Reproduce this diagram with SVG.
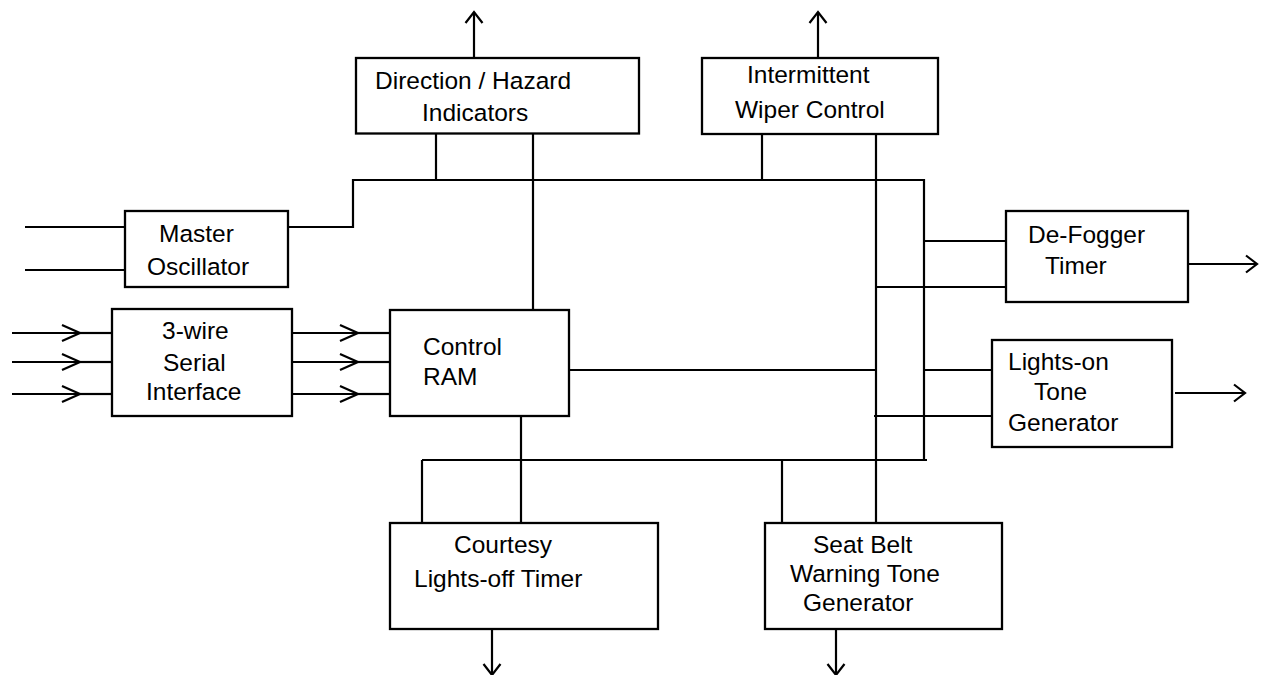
<svg xmlns="http://www.w3.org/2000/svg" width="1263" height="675" viewBox="0 0 1263 675">
<style>
.box{fill:#fff;stroke:#000;stroke-width:2.3}
.ln{fill:none;stroke:#000;stroke-width:2.2}
text{font-family:"Liberation Sans",Arial,sans-serif;font-size:24.5px;fill:#000}
</style>
<defs>
<marker id="ah" markerUnits="userSpaceOnUse" markerWidth="30" markerHeight="30" viewBox="-15 -15 30 30" refX="0" refY="0" orient="auto" overflow="visible"><path d="M-11,-8.5 L0,0 L-11,8.5" fill="none" stroke="#000" stroke-width="2.2"/></marker>
<marker id="ahl" markerUnits="userSpaceOnUse" markerWidth="40" markerHeight="30" viewBox="-20 -15 40 30" refX="0" refY="0" orient="auto" overflow="visible"><path d="M-18,-8 L0,0 L-18,8" fill="none" stroke="#000" stroke-width="2.2"/></marker>
</defs>
<rect width="1263" height="675" fill="#fff"/>
<g id="connectors">
<line class="ln" x1="474" y1="58" x2="474" y2="12" marker-end="url(#ah)"/>
<line class="ln" x1="818" y1="58" x2="818" y2="12" marker-end="url(#ah)"/>
<line class="ln" x1="436" y1="133" x2="436" y2="180"/>
<line class="ln" x1="533" y1="133" x2="533" y2="310"/>
<line class="ln" x1="762" y1="134" x2="762" y2="180"/>
<line class="ln" x1="876" y1="134" x2="876" y2="523"/>
<polyline class="ln" points="288,227 353,227 353,180 924,180 924,460"/>
<line class="ln" x1="25" y1="227" x2="125" y2="227"/>
<line class="ln" x1="25" y1="270" x2="125" y2="270"/>
<line class="ln" x1="12" y1="333" x2="80" y2="333" marker-end="url(#ahl)"/>
<line class="ln" x1="80" y1="333" x2="112" y2="333"/>
<line class="ln" x1="12" y1="362" x2="80" y2="362" marker-end="url(#ahl)"/>
<line class="ln" x1="80" y1="362" x2="112" y2="362"/>
<line class="ln" x1="12" y1="394" x2="80" y2="394" marker-end="url(#ahl)"/>
<line class="ln" x1="80" y1="394" x2="112" y2="394"/>
<line class="ln" x1="292" y1="333" x2="358" y2="333" marker-end="url(#ahl)"/>
<line class="ln" x1="358" y1="333" x2="390" y2="333"/>
<line class="ln" x1="292" y1="362" x2="358" y2="362" marker-end="url(#ahl)"/>
<line class="ln" x1="358" y1="362" x2="390" y2="362"/>
<line class="ln" x1="292" y1="394" x2="358" y2="394" marker-end="url(#ahl)"/>
<line class="ln" x1="358" y1="394" x2="390" y2="394"/>
<line class="ln" x1="569" y1="370" x2="876" y2="370"/>
<line class="ln" x1="521" y1="416" x2="521" y2="523"/>
<line class="ln" x1="422" y1="460" x2="927" y2="460"/>
<line class="ln" x1="422" y1="460" x2="422" y2="523"/>
<line class="ln" x1="782" y1="460" x2="782" y2="523"/>
<line class="ln" x1="924" y1="241" x2="1006" y2="241"/>
<line class="ln" x1="876" y1="287" x2="1006" y2="287"/>
<line class="ln" x1="1188" y1="264" x2="1257" y2="264" marker-end="url(#ah)"/>
<line class="ln" x1="924" y1="370" x2="995" y2="370"/>
<line class="ln" x1="874" y1="416" x2="995" y2="416"/>
<line class="ln" x1="1175" y1="393" x2="1245" y2="393" marker-end="url(#ah)"/>
<line class="ln" x1="492" y1="629" x2="492" y2="675" marker-end="url(#ah)"/>
<line class="ln" x1="836" y1="629" x2="836" y2="675" marker-end="url(#ah)"/>
</g>
<g id="direction">
<rect class="box" x="356" y="58" width="283" height="75.5"/>
<text x="375" y="89">Direction / Hazard</text>
<text x="422" y="121">Indicators</text>
</g>
<g id="wiper">
<rect class="box" x="702" y="58" width="236" height="76"/>
<text x="747" y="83">Intermittent</text>
<text x="735" y="118">Wiper Control</text>
</g>
<g id="master">
<rect class="box" x="125" y="211" width="163" height="76"/>
<text x="159" y="242">Master</text>
<text x="147" y="275">Oscillator</text>
</g>
<g id="serial">
<rect class="box" x="112" y="309" width="180" height="107"/>
<text x="162" y="339">3-wire</text>
<text x="163" y="371">Serial</text>
<text x="146" y="400">Interface</text>
</g>
<g id="ram">
<rect class="box" x="390" y="310" width="179" height="106"/>
<text x="423" y="355">Control</text>
<text x="423" y="385">RAM</text>
</g>
<g id="defogger">
<rect class="box" x="1006" y="211" width="182" height="91"/>
<text x="1028" y="243">De-Fogger</text>
<text x="1045" y="274">Timer</text>
</g>
<g id="lightson">
<rect class="box" x="992" y="340" width="180" height="107"/>
<text x="1008" y="370">Lights-on</text>
<text x="1034" y="400">Tone</text>
<text x="1008" y="431">Generator</text>
</g>
<g id="courtesy">
<rect class="box" x="390" y="523" width="268" height="106"/>
<text x="454" y="553">Courtesy</text>
<text x="414" y="587">Lights-off Timer</text>
</g>
<g id="seatbelt">
<rect class="box" x="765" y="523" width="237" height="106"/>
<text x="813" y="553">Seat Belt</text>
<text x="790" y="582">Warning Tone</text>
<text x="803" y="611">Generator</text>
</g>
</svg>
